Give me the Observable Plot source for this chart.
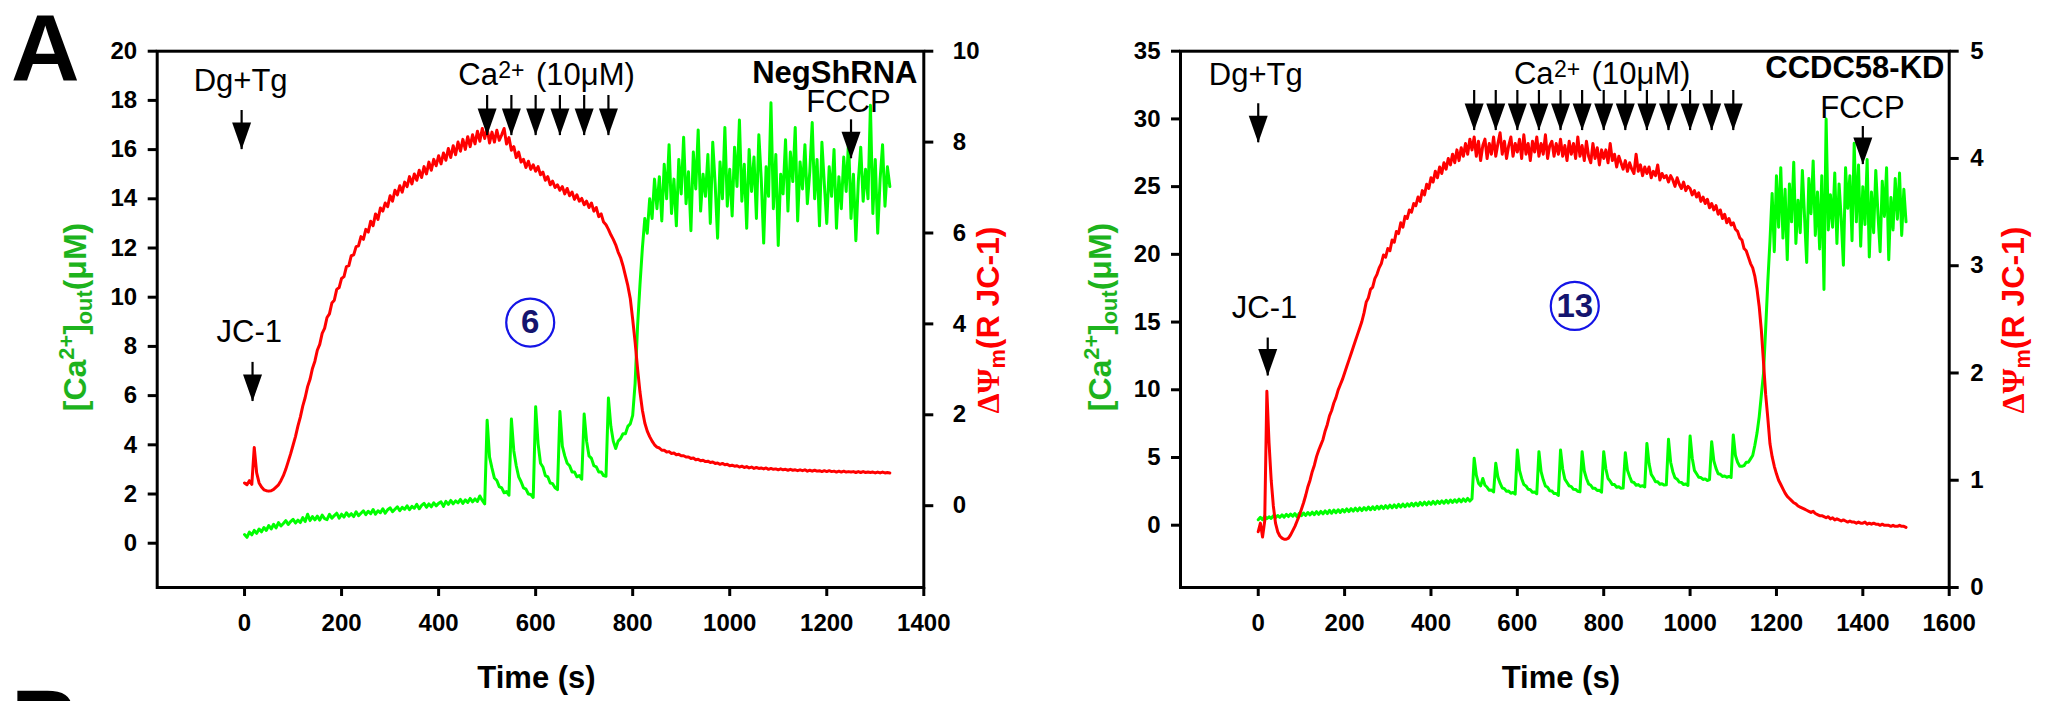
<!DOCTYPE html>
<html><head><meta charset="utf-8">
<script src="https://cdn.jsdelivr.net/npm/d3@7"></script>
<script src="https://cdn.jsdelivr.net/npm/@observablehq/plot@0.6"></script>
<style>
body{margin:0;background:#fff;}
#fig{position:relative;width:2052px;height:701px;overflow:hidden;background:#fff;font-family:"Liberation Sans",Arial,sans-serif;}
#fig svg{position:absolute;left:0;top:0;}
.letter{position:absolute;font:bold 95px "Liberation Sans",Arial,sans-serif;line-height:1;}
.ytitle{position:absolute;white-space:nowrap;font:bold 32px "Liberation Sans",Arial,sans-serif;line-height:1;transform:translate(-50%,-50%) rotate(-90deg);}
.ytitle sup{font-size:0.68em;vertical-align:0.55em;line-height:0;}
.ytitle sub{font-size:0.68em;vertical-align:-0.28em;line-height:0;}
.greek{font-family:"Liberation Serif","Times New Roman",serif;}
</style></head>
<body>
<div id="fig"></div>
<script>
// ---------------- DATA ----------------
const sampleStep = 5; // s between samples

// Panel NegShRNA
const negTimeTicks = [0,200,400,600,800,1000,1200,1400];
const negCaTicks = [0,2,4,6,8,10,12,14,16,18,20];
const negPsiTicks = [0,2,4,6,8,10];
const negCaAdds = [500,550,600,650,700,750];
const negDgTgTime = -6, negJC1Time = 16.5, negFCCPTime = 1250;
const negCa = [
0.35,0.24,0.45,0.34,0.52,0.40,0.58,0.46,0.64,0.52,
0.72,0.58,0.77,0.62,0.84,0.70,0.80,0.92,0.76,0.88,
0.97,0.82,0.94,0.84,1.04,0.88,1.18,0.92,1.08,0.95,
1.10,0.94,1.14,1.00,0.96,1.17,1.02,1.12,1.22,1.02,
1.18,1.06,1.24,1.10,1.20,1.08,1.28,1.12,1.22,1.32,
1.16,1.30,1.20,1.37,1.18,1.32,1.24,1.40,1.22,1.36,
1.44,1.28,1.38,1.48,1.32,1.46,1.38,1.52,1.36,1.50,
1.42,1.58,1.40,1.54,1.62,1.46,1.60,1.48,1.64,1.52,
1.62,1.68,1.50,1.70,1.58,1.74,1.60,1.72,1.64,1.78,
1.62,1.76,1.66,1.82,1.68,1.80,1.70,1.92,1.74,1.60,
5.00,3.50,3.05,2.65,2.55,2.30,2.25,2.05,2.10,1.95,
5.05,3.75,3.15,2.70,2.50,2.25,2.20,2.00,1.98,1.86,
5.55,4.05,3.25,3.10,2.75,2.70,2.45,2.42,2.25,2.18,
5.35,3.95,3.55,3.25,3.15,2.90,2.90,2.70,2.75,2.60,
5.25,4.15,3.55,3.45,3.15,3.10,2.90,2.90,2.75,2.72,
5.90,4.75,4.15,3.85,4.15,4.25,4.45,4.45,4.75,4.85,
5.20,6.50,8.80,10.50,12.00,13.20,12.60,14.00,13.20,14.80,
13.6,14.9,13.1,15.4,14.0,16.2,13.4,14.8,12.9,15.6,
14.2,16.5,13.8,15.1,12.7,15.9,14.4,16.8,13.5,15.0,
14.1,15.8,13.0,16.3,14.6,12.4,15.5,14.0,16.9,13.7,
15.2,13.3,16.1,14.5,17.2,13.9,15.4,12.8,16.0,14.3,
15.7,13.2,16.6,14.8,12.2,15.3,14.1,17.9,13.6,15.8,
12.1,15.0,14.2,16.4,13.5,15.9,14.7,16.9,13.1,15.5,
14.4,16.2,13.8,15.1,17.1,14.0,15.6,12.9,16.3,14.6,
13.0,15.3,14.1,16.0,12.8,14.9,13.6,15.7,14.3,16.4,
13.2,15.0,12.3,14.7,16.1,13.9,15.2,14.0,17.8,13.4,
15.6,12.6,14.8,16.2,13.7,15.3,14.5
];
const negPsi = [
0.50,0.46,0.55,0.47,1.28,0.72,0.50,0.41,0.35,0.33,
0.32,0.33,0.36,0.41,0.46,0.55,0.66,0.80,0.97,1.14,
1.33,1.52,1.75,1.95,2.19,2.38,2.62,2.78,3.02,3.18,
3.42,3.55,3.79,3.90,4.14,4.22,4.46,4.52,4.76,4.80,
5.00,5.04,5.26,5.28,5.50,5.52,5.70,5.72,5.92,5.86,
6.08,6.02,6.26,6.16,6.42,6.30,6.55,6.48,6.66,6.58,
6.82,6.70,6.94,6.84,7.04,6.90,7.12,7.02,7.24,7.08,
7.30,7.16,7.38,7.22,7.46,7.30,7.56,7.38,7.62,7.48,
7.70,7.52,7.76,7.60,7.86,7.66,7.92,7.72,8.00,7.80,
8.06,7.84,8.12,7.90,8.16,7.96,8.24,8.02,8.30,8.08,
8.30,7.98,8.22,8.00,8.26,8.04,8.16,8.30,7.96,8.10,
7.82,7.90,7.66,7.78,7.56,7.62,7.44,7.58,7.40,7.50,
7.36,7.46,7.28,7.34,7.16,7.24,7.06,7.14,7.00,7.06,
6.94,7.02,6.86,6.98,6.82,6.90,6.74,6.84,6.70,6.76,
6.62,6.70,6.56,6.66,6.48,6.56,6.36,6.42,6.24,6.18,
6.08,5.96,5.86,5.74,5.58,5.46,5.28,5.06,4.84,4.56,
4.10,3.60,3.02,2.50,2.10,1.82,1.64,1.52,1.42,1.34,
1.29,1.27,1.22,1.22,1.18,1.19,1.15,1.16,1.12,1.13,
1.10,1.10,1.07,1.07,1.04,1.05,1.01,1.02,0.99,1.00,
0.97,0.98,0.95,0.96,0.93,0.94,0.91,0.93,0.90,0.91,
0.88,0.89,0.87,0.88,0.85,0.87,0.84,0.86,0.83,0.85,
0.82,0.84,0.82,0.83,0.81,0.83,0.80,0.82,0.80,0.81,
0.79,0.81,0.79,0.80,0.78,0.80,0.78,0.79,0.77,0.79,
0.77,0.79,0.76,0.78,0.76,0.78,0.76,0.77,0.75,0.77,
0.75,0.77,0.75,0.76,0.74,0.76,0.74,0.76,0.74,0.75,
0.74,0.75,0.73,0.75,0.73,0.75,0.73,0.74,0.73,0.74,
0.72,0.74,0.72,0.74,0.72,0.73,0.72
];

// Panel CCDC58-KD
const kdTimeTicks = [0,200,400,600,800,1000,1200,1400,1600];
const kdCaTicks = [0,5,10,15,20,25,30,35];
const kdPsiTicks = [0,1,2,3,4,5];
const kdCaAdds = [500,550,600,650,700,750,800,850,900,950,1000,1050,1100];
const kdDgTgTime = 0, kdJC1Time = 22, kdFCCPTime = 1400;
const kdCa = [
0.40,0.58,0.40,0.66,0.48,0.62,0.50,0.70,0.56,0.72,
0.58,0.76,0.60,0.80,0.64,0.82,0.66,0.86,0.62,0.88,
0.70,0.90,0.72,0.94,0.76,0.96,0.78,1.00,0.80,1.02,
0.84,1.06,0.86,1.10,0.88,1.12,0.92,1.14,0.94,1.16,
0.98,1.20,1.00,1.22,1.04,1.26,1.06,1.28,1.08,1.30,
1.12,1.34,1.14,1.36,1.16,1.40,1.20,1.42,1.22,1.44,
1.26,1.48,1.28,1.50,1.30,1.54,1.34,1.56,1.36,1.58,
1.40,1.62,1.42,1.64,1.44,1.68,1.48,1.70,1.50,1.72,
1.54,1.76,1.56,1.78,1.60,1.80,1.62,1.84,1.64,1.86,
1.68,1.88,1.70,1.92,1.72,1.94,1.76,1.98,1.78,1.96,
4.94,3.70,3.10,2.90,3.45,2.95,2.80,2.58,2.60,2.45,
4.57,3.55,3.10,2.75,2.70,2.50,2.52,2.36,2.42,2.30,
5.55,4.05,3.45,3.00,2.90,2.65,2.62,2.44,2.46,2.32,
5.43,3.95,3.35,2.90,2.80,2.55,2.52,2.34,2.34,2.20,
5.55,4.15,3.40,3.15,2.90,2.85,2.65,2.64,2.50,2.46,
5.43,4.00,3.45,3.05,2.95,2.72,2.72,2.56,2.58,2.44,
5.43,4.15,3.45,3.25,3.00,3.00,2.80,2.84,2.72,2.74,
5.35,4.05,3.60,3.20,3.15,2.95,3.00,2.86,2.92,2.82,
6.04,4.55,3.75,3.50,3.20,3.20,3.02,3.06,2.96,2.98,
6.34,4.65,3.95,3.50,3.40,3.18,3.16,3.00,3.04,2.94,
6.59,4.95,4.05,3.80,3.54,3.52,3.38,3.42,3.30,3.36,
6.17,4.75,4.20,3.80,3.76,3.60,3.64,3.54,3.60,3.52,
6.66,5.15,4.65,4.35,4.35,4.40,4.65,4.65,4.90,5.15,
5.90,6.80,8.00,9.60,11.20,14.50,18.00,
21.0,24.5,20.2,25.8,22.0,26.4,21.2,24.8,19.6,25.2,
22.4,26.8,20.8,24.0,21.6,26.2,22.8,19.4,25.6,23.0,
26.9,21.4,24.6,20.4,25.8,17.4,30.0,21.8,24.4,22.0,
26.0,20.8,25.2,22.6,19.2,26.4,23.4,25.8,21.0,28.2,
22.4,26.6,20.6,25.0,22.2,27.0,19.8,24.6,21.6,26.2,
23.0,20.2,25.4,22.8,26.4,19.6,24.2,21.8,25.6,22.6,
26.0,21.4,24.8,22.4
];
const kdPsi = [
0.52,0.60,0.47,0.62,1.83,1.35,1.00,0.76,0.60,0.52,
0.48,0.46,0.45,0.45,0.46,0.49,0.53,0.57,0.62,0.67,
0.73,0.79,0.86,0.94,1.00,1.08,1.14,1.22,1.28,1.33,
1.38,1.46,1.52,1.60,1.65,1.72,1.77,1.84,1.89,1.94,
2.00,2.06,2.12,2.18,2.24,2.30,2.36,2.42,2.48,2.56,
2.66,2.70,2.78,2.80,2.88,2.92,2.98,3.02,3.10,3.08,
3.16,3.14,3.24,3.22,3.32,3.30,3.40,3.36,3.46,3.44,
3.52,3.50,3.58,3.56,3.64,3.60,3.70,3.66,3.76,3.72,
3.82,3.78,3.88,3.82,3.92,3.86,3.96,3.90,4.00,3.94,
4.04,3.96,4.08,3.98,4.10,4.02,4.14,4.04,4.18,4.08,
4.20,4.02,4.16,3.98,4.12,4.18,4.00,4.14,4.04,4.20,
4.02,4.14,4.24,4.04,4.16,4.00,4.12,4.20,4.02,4.14,
4.06,4.18,4.00,4.22,4.04,4.14,3.98,4.16,4.06,4.20,
4.02,4.14,4.04,4.22,4.00,4.12,4.16,4.02,4.14,4.04,
4.18,4.02,4.12,3.98,4.16,4.04,4.14,4.00,4.20,4.02,
4.12,3.98,4.16,4.02,3.96,4.14,4.00,4.10,3.94,4.08,
4.00,4.08,3.96,4.14,3.98,4.04,3.92,4.02,3.96,3.90,
3.98,3.88,3.96,3.90,3.86,4.04,3.88,3.94,3.84,3.92,
3.86,3.92,3.82,3.88,3.84,3.94,3.80,3.86,3.82,3.84,
3.78,3.84,3.80,3.74,3.82,3.76,3.72,3.78,3.70,3.74,
3.72,3.66,3.70,3.64,3.68,3.60,3.64,3.58,3.62,3.54,
3.58,3.52,3.56,3.48,3.52,3.44,3.48,3.40,3.44,3.38,
3.40,3.34,3.32,3.26,3.24,3.16,3.14,3.08,3.02,2.98,
2.90,2.78,2.62,2.40,2.10,1.80,1.58,1.34,1.22,1.13,
1.06,1.00,0.96,0.92,0.88,0.85,0.83,0.81,0.79,0.78,
0.76,0.75,0.74,0.73,0.72,0.71,0.70,0.71,0.69,0.68,
0.67,0.67,0.66,0.65,0.66,0.64,0.65,0.63,0.64,0.63,
0.62,0.63,0.62,0.61,0.62,0.61,0.61,0.60,0.61,0.60,
0.60,0.61,0.59,0.60,0.59,0.60,0.59,0.59,0.58,0.59,
0.58,0.58,0.58,0.57,0.58,0.57,0.57,0.58,0.57,0.57,
0.56
];

// ---------------- RENDER ----------------
const W = 2052, H = 701;
const FONT = '"Liberation Sans", Arial, sans-serif';
const GREEN = "#00ff00", RED = "#ff0000";
const toRows = vals => vals.map((v, i) => ({t: i * sampleStep, v}));
const plain = d => String(d);

const arrowHead = {draw(ctx) { ctx.moveTo(-9.5, -27); ctx.lineTo(9.5, -27); ctx.lineTo(0, 0); ctx.closePath(); }};
function arrows(times, yTop, yTip) {
  return [
    Plot.ruleX(times, {x: d => d, y1: yTop, y2: yTip, stroke: "black", strokeWidth: 2.2}),
    Plot.dot(times, {x: d => d, y: yTip, symbol: arrowHead, fill: "black", stroke: null})
  ];
}
function caLabel(x, y) {
  return [
    Plot.text(["Ca"], {x, y, text: d => d, textAnchor: "start", lineAnchor: "bottom", fontSize: 31}),
    Plot.text(["2+"], {x, y, text: d => d, textAnchor: "start", lineAnchor: "bottom", fontSize: 23, dx: 40, dy: -7}),
    Plot.text(["(10μM)"], {x, y, text: d => d, textAnchor: "start", lineAnchor: "bottom", fontSize: 31, dx: 77.7})
  ];
}

const fig = document.getElementById("fig");
function addPlot(opts) {
  const el = Plot.plot(Object.assign({width: W, height: H, style: {background: "transparent", fontFamily: FONT, overflow: "visible"}}, opts));
  fig.appendChild(el);
}

function panel(cfg) {
  const m = {marginLeft: cfg.left, marginRight: W - cfg.right, marginTop: 50.7, marginBottom: H - 587};
  addPlot({...m,
    x: {domain: [-180, cfg.xMax]}, y: {domain: cfg.yLeft},
    marks: [
      Plot.line(toRows(cfg.ca), {x: "t", y: "v", stroke: GREEN, strokeWidth: 3}),
      Plot.frame({stroke: "black", strokeWidth: 3}),
      Plot.axisX({ticks: cfg.xTicks, tickFormat: plain, tickSize: 9, tickPadding: 17.5, strokeWidth: 3, fontSize: 24, fontWeight: "bold", label: null}),
      Plot.axisY({ticks: cfg.yLeftTicks, tickFormat: plain, anchor: "left", tickSize: 9, tickPadding: 11, strokeWidth: 3, fontSize: 24, fontWeight: "bold", label: null})
    ]});
  addPlot({...m,
    x: {domain: [-180, cfg.xMax], axis: null}, y: {domain: cfg.yRight},
    marks: [
      Plot.line(toRows(cfg.psi), {x: "t", y: "v", stroke: RED, strokeWidth: 3}),
      Plot.axisY({ticks: cfg.yRightTicks, tickFormat: plain, anchor: "right", tickSize: 9, tickPadding: cfg.rightPad, strokeWidth: 3, fontSize: 24, fontWeight: "bold", label: null})
    ]});
  const a = cfg.anno;
  addPlot({...m,
    x: {domain: [-180, cfg.xMax], axis: null}, y: {domain: cfg.yLeft, axis: null},
    marks: [
      ...arrows([cfg.dgtg], a.dgTop, a.dgTip),
      ...arrows([cfg.jc1], a.jcTop, a.jcTip),
      ...arrows(cfg.adds, a.caTop, a.caTip),
      ...arrows([cfg.fccp], a.fcTop, a.fcTip),
      Plot.text(["Dg+Tg"], {x: a.dgX, y: a.dgY, text: d => d, lineAnchor: "bottom", fontSize: 31}),
      Plot.text(["JC-1"], {x: a.jcX, y: a.jcY, text: d => d, lineAnchor: "bottom", fontSize: 31}),
      Plot.text(["FCCP"], {x: a.fcX, y: a.fcY, text: d => d, lineAnchor: "bottom", fontSize: 31}),
      ...caLabel(a.caX, a.caY),
      Plot.text([cfg.name], {x: a.nmX, y: a.nmY, text: d => d, textAnchor: "end", lineAnchor: "bottom", fontSize: 31, fontWeight: "bold"}),
      Plot.dot([0], {x: a.cX, y: a.cY, r: 24, stroke: "#1414e6", strokeWidth: 2.2, fill: "none"}),
      Plot.text([cfg.nCells], {x: a.cX, y: a.cY, text: d => d, fontSize: 33, fontWeight: "bold", fill: "#14146e"}),
      Plot.text(["Time (s)"], {frameAnchor: "bottom", dy: 100, dx: -4, lineAnchor: "bottom", fontSize: 31, fontWeight: "bold"})
    ]});
}

panel({
  left: 156.7, right: 923.3, xMax: 1400, xTicks: negTimeTicks,
  yLeft: [-1.8, 20], yLeftTicks: negCaTicks, yRight: [-1.8, 10], yRightTicks: negPsiTicks, rightPad: 20,
  ca: negCa, psi: negPsi, adds: negCaAdds, dgtg: negDgTgTime, jc1: negJC1Time, fccp: negFCCPTime,
  name: "NegShRNA", nCells: "6",
  anno: {dgTop: 17.59, dgTip: 16.0, jcTop: 7.35, jcTip: 5.76, caTop: 18.2, caTip: 16.57, fcTop: 17.21, fcTip: 15.63,
         dgX: -8, dgY: 18.375, jcX: 9.7, jcY: 8.16, fcX: 1244.6, fcY: 17.52, caX: 440.6, caY: 18.61,
         nmX: 1387, nmY: 18.7, cX: 588.8, cY: 8.97}
});
panel({
  left: 1180, right: 1948.7, xMax: 1600, xTicks: kdTimeTicks,
  yLeft: [-4.6, 35], yLeftTicks: kdCaTicks, yRight: [0, 5], yRightTicks: kdPsiTicks, rightPad: 12,
  ca: kdCa, psi: kdPsi, adds: kdCaAdds, dgtg: kdDgTgTime, jc1: kdJC1Time, fccp: kdFCCPTime,
  name: "CCDC58-KD", nCells: "13",
  anno: {dgTop: 31.12, dgTip: 28.24, jcTop: 13.82, jcTip: 11.02, caTop: 32.1, caTip: 29.14, fcTop: 29.44, fcTip: 26.63,
         dgX: -5.6, dgY: 32.54, jcX: 14.6, jcY: 15.31, fcX: 1399, fcY: 30.08, caX: 592, caY: 32.59,
         nmX: 1589, nmY: 33.04, cX: 733, cY: 16.19}
});

function addDiv(cls, html, style) {
  const d = document.createElement("div");
  d.className = cls; d.innerHTML = html; Object.assign(d.style, style);
  fig.appendChild(d);
}
addDiv("letter", "A", {left: "11px", top: "1.3px"});
addDiv("letter", "B", {left: "11px", top: "676px"});
const caTitle = '[Ca<sup>2+</sup>]<sub>out</sub>(μM)';
const psiTitle = '<span class="greek">ΔΨ</span><sub>m</sub>(R JC-1)';
addDiv("ytitle", caTitle, {left: "75px", top: "317px", color: "#1db31d"});
addDiv("ytitle", caTitle, {left: "1099.5px", top: "317px", color: "#1db31d"});
addDiv("ytitle", psiTitle, {left: "988px", top: "320px", color: "#ff0000"});
addDiv("ytitle", psiTitle, {left: "2013px", top: "320px", color: "#ff0000"});
</script>
</body></html>
